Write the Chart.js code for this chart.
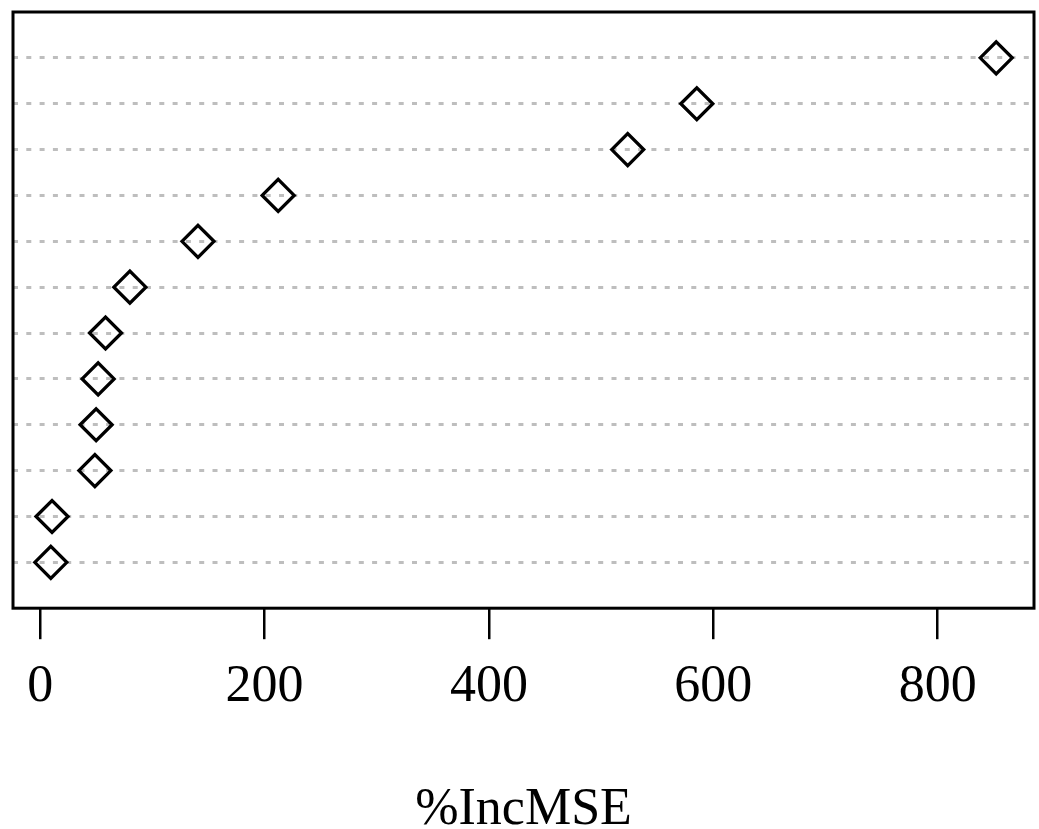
<!DOCTYPE html>
<html>
<head>
<meta charset="utf-8">
<script src="https://cdn.jsdelivr.net/npm/chart.js@4"></script>
<style>
  html, body { margin: 0; padding: 0; background: #fff; }
  #wrap { width: 1039px; height: 829px; }
</style>
</head>
<body>
<div id="wrap"><canvas id="chart"></canvas></div>
<script>
// %IncMSE per variable, bottom row first (dotchart order)
const rows = [1, 2, 3, 4, 5, 6, 7, 8, 9, 10, 11, 12];
const incMSE = [9.4, 10.5, 48.7, 49.8, 51.6, 58.2, 79.9, 140.6, 212.1, 523.7, 585.3, 852.2];
const xTicks = [0, 200, 400, 600, 800];

const points = rows.map((r, i) => ({ x: incMSE[i], y: r }));

// plot frame like R's box()
const frame = {
  id: 'frame',
  afterDatasetsDraw(chart) {
    const a = chart.chartArea;
    const ctx = chart.ctx;
    ctx.save();
    ctx.strokeStyle = '#000';
    ctx.lineWidth = 3;
    ctx.strokeRect(a.left, a.top, a.right - a.left, a.bottom - a.top);
    ctx.restore();
  }
};

new Chart(document.getElementById('chart'), {
  type: 'scatter',
  data: {
    datasets: [{
      data: points,
      pointStyle: 'rectRot',
      pointRadius: 16,
      pointHoverRadius: 16,
      borderColor: '#000',
      backgroundColor: 'rgba(0,0,0,0)',
      pointBorderWidth: 3.3
    }]
  },
  options: {
    responsive: true,
    maintainAspectRatio: false,
    animation: false,
    layout: { autoPadding: false, padding: { left: 13, right: 5, top: 12, bottom: -13 } },
    plugins: { legend: { display: false }, tooltip: { enabled: false } },
    scales: {
      x: {
        type: 'linear',
        min: -24.3,
        max: 885.9,
        afterBuildTicks: s => { s.ticks = xTicks.map(v => ({ value: v })); },
        grid: { drawOnChartArea: false, color: '#000', lineWidth: 2.5, tickLength: 31 },
        border: { display: false },
        ticks: {
          color: '#000',
          padding: 17,
          maxRotation: 0,
          font: { family: 'Liberation Serif', size: 52 }
        },
        title: {
          display: true,
          text: '%IncMSE',
          color: '#000',
          padding: { top: 44, bottom: 0 },
          font: { family: 'Liberation Serif', size: 52 }
        }
      },
      y: {
        type: 'linear',
        min: 0,
        max: 13,
        afterBuildTicks: s => { s.ticks = rows.map(v => ({ value: v })); },
        afterFit: s => { s.width = 0; },
        grid: { color: '#bebebe', lineWidth: 3, drawTicks: false },
        border: { display: false, dash: [5, 8.3] },
        ticks: { display: false }
      }
    }
  },
  plugins: [frame]
});
</script>
</body>
</html>
